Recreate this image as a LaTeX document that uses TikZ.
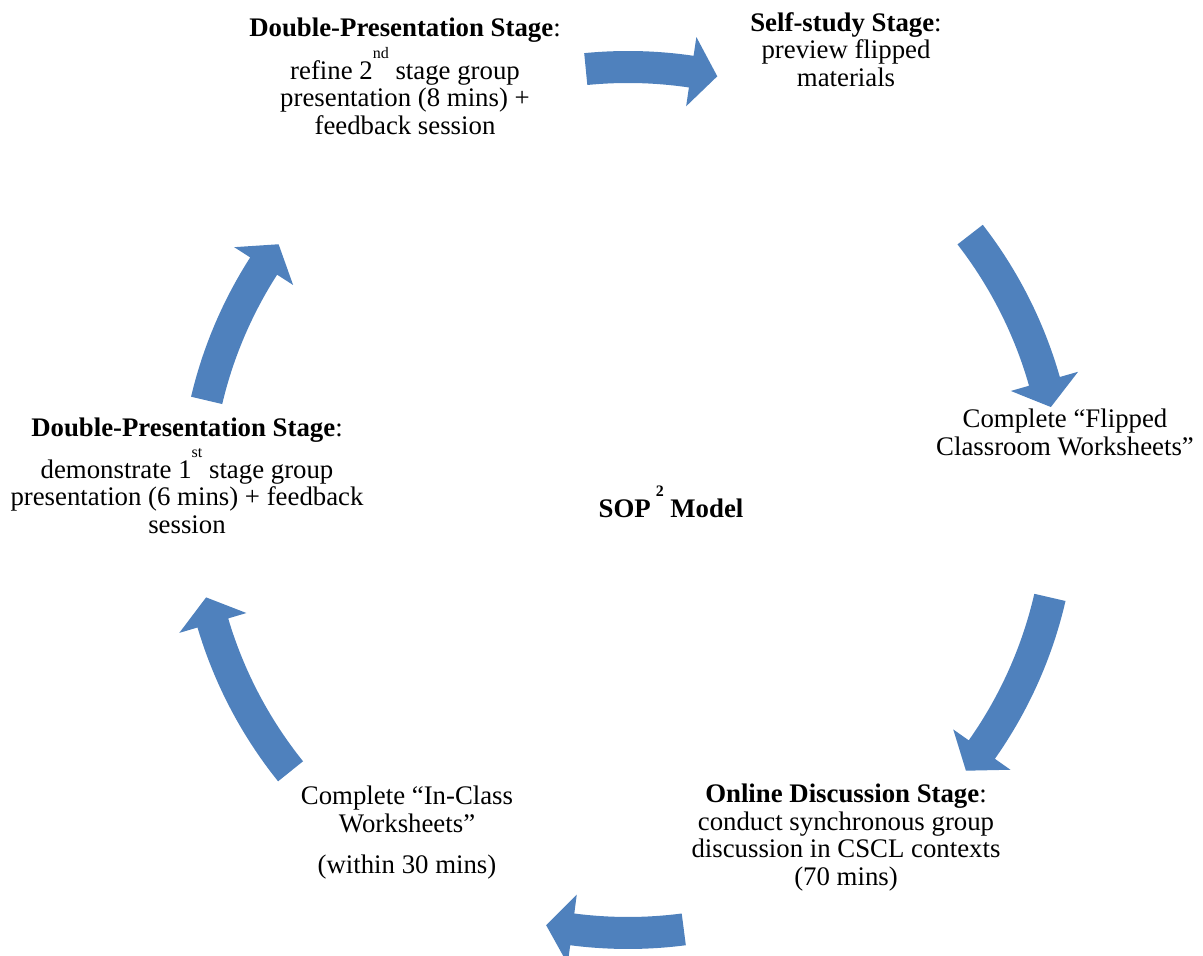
\documentclass[tikz,border=0pt]{standalone}
\usepackage{fontspec}
\setmainfont{Liberation Serif}
\definecolor{arrowblue}{HTML}{4F81BD}
% raised ordinal / exponent
\newcommand{\sups}[1]{\raisebox{10.5pt}[0pt][0pt]{\fontsize{8}{8}\selectfont #1}}

\begin{document}
\begin{tikzpicture}[x=0.5pt,y=0.5pt]
\tikzstyle{stage}=[align=center,inner sep=0pt,anchor=north,font=\fontsize{13.4}{13.7}\selectfont]
\tikzstyle{cyclearrow}=[fill=arrowblue]
\useasboundingbox (0,0) rectangle (1203,956);

\node[stage] (dp2) at (405,938) {\textbf{Double-Presentation Stage}:\\[7.5pt] refine 2\sups{nd} stage group\\ presentation (8 mins) +\\ feedback session};
\node[stage] (self) at (846,944) {\textbf{Self-study Stage}:\\ preview flipped\\ materials};
\node[stage] (fcw) at (1065,547) {Complete “Flipped\\ Classroom Worksheets”};
\node[stage] (onl) at (846,172) {\textbf{Online Discussion Stage}:\\ conduct synchronous group\\ discussion in CSCL contexts\\ (70 mins)};
\node[stage] (icw) at (407,170) {Complete “In-Class\\ Worksheets”\\[7pt] (within 30 mins)};
\node[stage] (dp1) at (187,538) {\textbf{Double-Presentation Stage}:\\[7pt] demonstrate 1\sups{st} stage group\\ presentation (6 mins) + feedback\\ session};
\node[font=\bfseries\fontsize{13.4}{13.5}\selectfont,anchor=base,inner sep=0pt] (sop) at (671,438) {SOP\hspace{2.5pt}\sups{\bfseries 2} Model};

% block arrows round the cycle
\begin{scope}[shift={(628,456)}]
\foreach \a/\b [evaluate=\b as \c using \b+3.5] in {95.6/78.1, 37.8/12.4, -13/-38.7, -82.6/-100.9, -141.2/-167, 166.7/143.8}
  \fill[cyclearrow] (\a:449) arc[start angle=\a, end angle=\c, radius=449] -- (\c:468) -- (\b:433) -- (\c:398) -- (\c:417) arc[start angle=\c, end angle=\a, radius=417] -- cycle;
\end{scope}
\end{tikzpicture}
\end{document}
